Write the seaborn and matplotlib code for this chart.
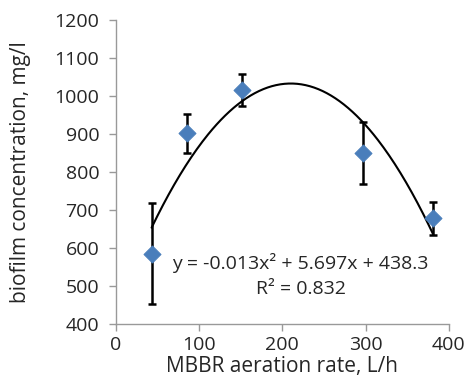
import matplotlib
matplotlib.use("Agg")
import matplotlib.pyplot as plt
import numpy as np
import pandas as pd
import seaborn as sns

# data
aeration = [43, 86, 152, 297, 381]
biofilm = [585, 902, 1016, 850, 678]
err = [133, 52, 42, 81, 43]
eq_text = "y = -0.013x² + 5.697x + 438.3"
r2_text = "R² = 0.832"

sns.set_style("white")
plt.rcParams['font.family'] = ['Open Sans', 'DejaVu Sans']

df = pd.DataFrame({'rate': aeration, 'conc': biofilm, 'err': err})

# 2nd order polynomial trendline
coef = np.polyfit(df['rate'], df['conc'], 2)
xs = np.linspace(min(aeration), max(aeration), 200)
trend = pd.DataFrame({'rate': xs, 'conc': np.polyval(coef, xs)})

fig = plt.figure(figsize=(4.67, 3.8), dpi=100)
ax = fig.add_axes([0.248, 0.148, 0.713, 0.799])

sns.lineplot(data=trend, x='rate', y='conc', color='black', linewidth=1.5, ax=ax, zorder=2)
ax.errorbar(df['rate'], df['conc'], yerr=df['err'], fmt='none', ecolor='black',
            elinewidth=1.8, capsize=3, capthick=1.8, zorder=3)
sns.scatterplot(data=df, x='rate', y='conc', marker='D', s=75, color='#4a7ebb',
                edgecolor='#4a7ebb', ax=ax, zorder=4)

ax.text(222, 561, eq_text, ha='center', va='center', fontsize=14)
ax.text(222, 491, r2_text, ha='center', va='center', fontsize=14)

ax.set_xlim(0, 400)
ax.set_ylim(400, 1200)
ax.set_xticks(range(0, 401, 100))
ax.set_yticks(range(400, 1201, 100))
ax.set_xlabel("MBBR aeration rate, L/h", fontsize=15)
ax.set_ylabel("biofilm concentration, mg/l", fontsize=15)
ax.yaxis.set_label_coords(-0.255, 0.5)
ax.xaxis.set_label_coords(0.5, -0.105)
ax.tick_params(axis='both', labelsize=14, length=5, width=1, color='#999999',
               direction='out', bottom=True, left=True)
ax.tick_params(axis='y', pad=7)
ax.tick_params(axis='x', pad=4)
ax.spines['top'].set_visible(False)
ax.spines['right'].set_visible(False)
for s in ['left', 'bottom']:
    ax.spines[s].set_color('#999999')
    ax.spines[s].set_linewidth(1)

fig.savefig("out.png", dpi=100)
